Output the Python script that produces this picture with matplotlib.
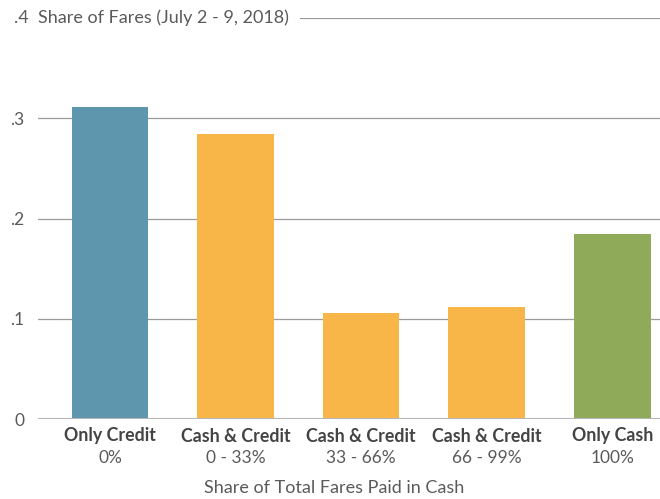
import matplotlib
matplotlib.use('Agg')
import matplotlib.pyplot as plt
import matplotlib.transforms as mtransforms

plt.rcParams['font.family'] = ['Lato', 'DejaVu Sans']

# data
groups = ['Only Credit', 'Cash & Credit', 'Cash & Credit', 'Cash & Credit', 'Only Cash']
ranges = ['0%', '0 - 33%', '33 - 66%', '66 - 99%', '100%']
shares = [0.311, 0.284, 0.106, 0.112, 0.185]
colors = ['#5E97AD', '#F9B648', '#F9B648', '#F9B648', '#8FAB5A']
yticks = [0, 0.1, 0.2, 0.3, 0.4]
ytick_labels = ['0', '.1', '.2', '.3', '.4']

fig = plt.figure(figsize=(6.6, 4.99), dpi=100)
ax = fig.add_axes([38/660, 1 - 419/499, 1 - 38/660, (419 - 18)/499])

x = list(range(len(shares)))
for yv in yticks[1:]:
    ax.axhline(yv, color='#9a9a9a', lw=0.9, zorder=0)
ax.axhline(0, color='#b5b5b5', lw=2.2, zorder=3)
ax.bar(x, shares, width=0.61, color=colors, zorder=2)

ax.set_xlim(-0.574, 4.38)
ax.set_ylim(0, 0.4)
for s in ax.spines.values():
    s.set_visible(False)
ax.set_xticks([])
ax.set_yticks(yticks)
ax.set_yticklabels(ytick_labels)
ax.tick_params(axis='y', length=0, pad=10, labelsize=12.5, labelcolor='#5a5a5a')
ax.yaxis.get_ticklabels()[-1].set_visible(False)

# title sits on the .4 gridline
fig.text(14/660, 1 - 18/499, '.4  Share of Fares (July 2 - 9, 2018)', ha='left', va='center',
         fontsize=13, color='#5a5a5a',
         bbox=dict(facecolor='white', edgecolor='none', pad=8), zorder=5)

trans = mtransforms.blended_transform_factory(ax.transData, fig.transFigure)
for i in x:
    ax.text(i, 1 - 436/499, groups[i], ha='center', va='center', fontsize=12.8,
            fontweight='bold', color='#444444', transform=trans)
    ax.text(i, 1 - 458/499, ranges[i], ha='center', va='center', fontsize=12.5,
            color='#5a5a5a', transform=trans)

fig.text(334/660, 1 - 488/499, 'Share of Total Fares Paid in Cash', ha='center', va='center',
         fontsize=13, color='#5a5a5a')

fig.savefig('out.png', dpi=100)
